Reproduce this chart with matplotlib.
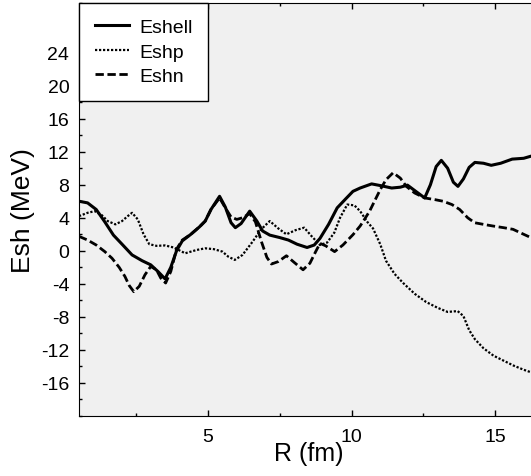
import matplotlib
matplotlib.use("Agg")
import matplotlib.pyplot as plt
from matplotlib.ticker import MultipleLocator

plt.rcParams['font.family'] = ['Liberation Sans', 'DejaVu Sans']
plt.rcParams['axes.unicode_minus'] = False

# R (fm) and shell energies (MeV)
r_shell = [0.5, 0.8, 1.1, 1.4, 1.7, 2.0, 2.35, 2.7, 3.0, 3.25, 3.5, 3.7, 3.9, 4.1,
           4.4, 4.7, 4.9, 5.1, 5.4, 5.6, 5.8, 5.95, 6.15, 6.45, 6.7, 6.9, 7.15,
           7.5, 7.8, 8.1, 8.45, 8.7, 8.9, 9.2, 9.5, 9.8, 10.05, 10.3, 10.7, 11.0,
           11.4, 11.7, 11.95, 12.2, 12.55, 12.75, 12.95, 13.13, 13.35, 13.55,
           13.71, 13.9, 14.1, 14.3, 14.6, 14.87, 15.2, 15.6, 16.0, 16.5]
eshell = [6.0, 5.8, 5.0, 3.5, 1.9, 0.8, -0.5, -1.2, -1.7, -2.5, -3.4, -2.0, 0.0, 1.2,
          2.0, 2.9, 3.6, 5.0, 6.6, 5.3, 3.4, 2.8, 3.3, 4.8, 3.6, 2.4, 1.9,
          1.6, 1.3, 0.8, 0.4, 0.7, 1.5, 3.2, 5.2, 6.3, 7.2, 7.6, 8.1, 7.9,
          7.6, 7.7, 7.95, 7.3, 6.4, 8.0, 10.2, 10.95, 10.0, 8.3,
          7.8, 8.7, 10.1, 10.7, 10.6, 10.35, 10.6, 11.1, 11.2, 11.7]

r_p = [0.5, 0.8, 1.05, 1.3, 1.5, 1.77, 2.0, 2.2, 2.35, 2.55, 2.75, 2.95, 3.2, 3.5,
       3.8, 4.2, 4.6, 4.9, 5.2, 5.5, 5.7, 5.93, 6.2, 6.55, 6.85, 7.15, 7.45,
       7.73, 8.05, 8.35, 8.6, 8.9, 9.15, 9.4, 9.6, 9.85, 10.1, 10.3, 10.55,
       10.75, 11.0, 11.2, 11.5, 11.8, 12.2, 12.6, 13.0, 13.35, 13.7, 13.9,
       14.1, 14.3, 14.6, 14.95, 15.3, 15.65, 16.0, 16.5]
eshp = [4.2, 4.6, 4.8, 4.3, 3.6, 3.2, 3.6, 4.2, 4.6, 3.8, 2.0, 0.8, 0.6, 0.65,
        0.4, -0.3, 0.1, 0.3, 0.2, -0.1, -0.7, -1.1, -0.5, 1.1, 2.6, 3.6, 2.7,
        2.0, 2.5, 2.8, 1.8, 0.7, 1.0, 2.2, 4.0, 5.6, 5.5, 4.8, 3.5,
        2.7, 0.8, -1.2, -2.8, -3.9, -5.2, -6.2, -6.9, -7.4, -7.3, -7.9,
        -9.6, -10.7, -11.8, -12.7, -13.3, -13.9, -14.4, -15.0]

r_n = [0.5, 0.8, 1.1, 1.4, 1.65, 1.9, 2.1, 2.25, 2.41, 2.6, 2.8, 3.0, 3.2, 3.35,
       3.52, 3.7, 3.9, 4.1, 4.4, 4.7, 4.9, 5.1, 5.4, 5.6, 5.8, 6.0, 6.2, 6.45,
       6.65, 6.86, 7.05, 7.21, 7.45, 7.73, 8.0, 8.31, 8.55, 8.75, 8.9, 9.1,
       9.41, 9.7, 10.05, 10.3, 10.45, 10.63, 10.8, 11.0, 11.2, 11.45, 11.7,
       11.91, 12.2, 12.55, 12.9, 13.19, 13.5, 13.77, 14.05, 14.29, 14.6,
       14.93, 15.3, 15.63, 16.0, 16.5]
eshn = [1.75, 1.3, 0.7, -0.1, -0.9, -2.0, -3.1, -4.2, -4.95, -4.3, -2.9, -1.9, -2.3, -3.3,
        -3.9, -2.5, 0.2, 1.3, 2.0, 2.9, 3.6, 5.0, 6.4, 5.2, 4.1, 3.8, 4.0, 4.5,
        3.5, 1.1, -0.8, -1.6, -1.3, -0.6, -1.4, -2.3, -1.5, -0.1, 0.9, 0.6,
        -0.1, 0.7, 1.95, 3.0, 3.8, 4.8, 6.0, 7.4, 8.6, 9.45, 8.8,
        7.8, 7.0, 6.4, 6.2, 6.0, 5.6, 5.0, 4.0, 3.4, 3.2,
        3.0, 2.8, 2.6, 2.0, 1.2]

fig = plt.figure(figsize=(5.31, 4.77), dpi=100)
ax = fig.add_axes([79 / 531, 60 / 477, 459 / 531, 413 / 477])
ax.set_facecolor('#f0f0f0')

ax.plot(r_shell, eshell, color='black', lw=2.2, label='Eshell')
ax.plot(r_p, eshp, color='black', lw=1.6, linestyle=(0, (1, 0.8)), label='Eshp')
ax.plot(r_n, eshn, color='black', lw=2.0, linestyle=(0, (3.0, 1.3)), label='Eshn')

ax.set_xlim(0.5, 16.5)
ax.set_ylim(-20, 30)
ax.set_xticks([5, 10, 15])
ax.set_yticks(range(-16, 25, 4))
ax.xaxis.set_minor_locator(MultipleLocator(2.5))
ax.yaxis.set_minor_locator(MultipleLocator(2))
ax.tick_params(which='both', direction='in', top=True, right=False, labelsize=14)
ax.tick_params(which='major', length=4.5, width=1)
ax.tick_params(which='minor', length=2.5, width=1)
ax.tick_params(axis='x', pad=9)
ax.tick_params(axis='y', pad=7)
ax.spines['right'].set_visible(False)

ax.set_xlabel('R (fm)', fontsize=18, labelpad=-3)
ax.set_ylabel('Esh (MeV)', fontsize=19, labelpad=4)

leg = ax.legend(loc='upper left', fontsize=14, handlelength=1.75, borderaxespad=0,
                fancybox=False, framealpha=1, edgecolor='black', labelspacing=0.35,
                borderpad=0.8, handletextpad=0.55)
leg.get_frame().set_linewidth(1.0)

fig.savefig('out.png', dpi=100)
